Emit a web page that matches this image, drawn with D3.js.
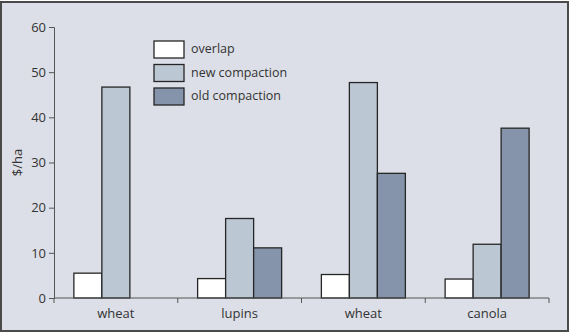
<!DOCTYPE html>
<html>
<head>
<meta charset="utf-8">
<script src="https://cdn.jsdelivr.net/npm/d3@7"></script>
<style>
  body { margin: 0; background: #fff; }
  text { font-family: "Open Sans", sans-serif; fill: #333; }
</style>
</head>
<body>
<div id="chart"></div>
<script>
// chart data
var categories = ['wheat', 'lupins', 'wheat ', 'canola']
var seriesNames = ['overlap', 'new compaction', 'old compaction']
var overlap = [5.5, 4.3, 5.2, 4.2]
var newCompaction = [46.7, 17.6, 47.7, 11.9]
var oldCompaction = [0, 11.1, 27.6, 37.6]
var yTicks = [0, 10, 20, 30, 40, 50, 60]

var colors = ['#ffffff', '#bcc7d4', '#8594aa']
var series = [overlap, newCompaction, oldCompaction]

var width = 570
var height = 333
var margin = { top: 27, right: 21, bottom: 35, left: 54 }

var svg = d3.select('#chart').append('svg')
    .attr('width', width)
    .attr('height', height)

// frame
svg.append('rect')
    .attr('x', 1).attr('y', 2)
    .attr('width', width - 3).attr('height', height - 4)
    .attr('fill', '#dcdfe7')
    .attr('stroke', '#4a4a4a')
    .attr('stroke-width', 2)

var x = d3.scaleBand()
    .domain(categories)
    .range([margin.left, width - margin.right])

var y = d3.scaleLinear()
    .domain([0, 60])
    .range([height - margin.bottom, margin.top])

var barW = 28
var inner = d3.scaleBand()
    .domain(d3.range(series.length))
    .range([0, barW * series.length])

var g = svg.append('g')

// bars
series.forEach(function (values, si) {
    g.selectAll('.bar' + si)
        .data(values.map(function (v, i) { return { v: v, c: categories[i] } })
            .filter(function (d) { return d.v > 0 }))
        .enter().append('rect')
        .attr('x', function (d) {
            return x(d.c) + (x.bandwidth() - barW * series.length) / 2 + inner(si)
        })
        .attr('y', function (d) { return y(d.v) })
        .attr('width', inner.bandwidth())
        .attr('height', function (d) { return y(0) - y(d.v) })
        .attr('fill', colors[si])
        .attr('stroke', '#262626')
        .attr('stroke-width', 1.3)
})

// y axis
var yAxis = svg.append('g')
    .attr('transform', 'translate(' + margin.left + ',0)')
    .call(d3.axisLeft(y).tickValues(yTicks).tickSize(5).tickPadding(3))
yAxis.selectAll('text').style('font-size', '13px')
yAxis.selectAll('line, path').attr('stroke', '#555')

// x axis: ticks at band edges
var xAxis = svg.append('g')
    .attr('transform', 'translate(0,' + y(0) + ')')
xAxis.append('line')
    .attr('x1', margin.left).attr('x2', width - margin.right)
    .attr('stroke', '#555')
var edges = categories.map(function (c) { return x(c) }).concat([width - margin.right])
xAxis.selectAll('.tick')
    .data(edges)
    .enter().append('line')
    .attr('x1', function (d) { return d }).attr('x2', function (d) { return d })
    .attr('y1', 0).attr('y2', 5)
    .attr('stroke', '#555')
xAxis.selectAll('.lbl')
    .data(categories)
    .enter().append('text')
    .attr('x', function (d) { return x(d) + x.bandwidth() / 2 })
    .attr('y', 20)
    .attr('text-anchor', 'middle')
    .style('font-size', '13px')
    .text(function (d) { return d.trim() })

// y label
svg.append('text')
    .attr('transform', 'translate(22,' + ((margin.top + height - margin.bottom) / 2) + ') rotate(-90)')
    .attr('text-anchor', 'middle')
    .style('font-size', '13px')
    .text('$/ha')

// legend
var legend = svg.append('g').attr('transform', 'translate(154,41)')
seriesNames.forEach(function (name, i) {
    var row = legend.append('g').attr('transform', 'translate(0,' + (i * 23.5) + ')')
    row.append('rect')
        .attr('width', 30).attr('height', 17)
        .attr('fill', colors[i])
        .attr('stroke', '#262626')
        .attr('stroke-width', 1.3)
    row.append('text')
        .attr('x', 37).attr('y', 12)
        .style('font-size', '12.5px')
        .text(name)
})
</script>
</body>
</html>
